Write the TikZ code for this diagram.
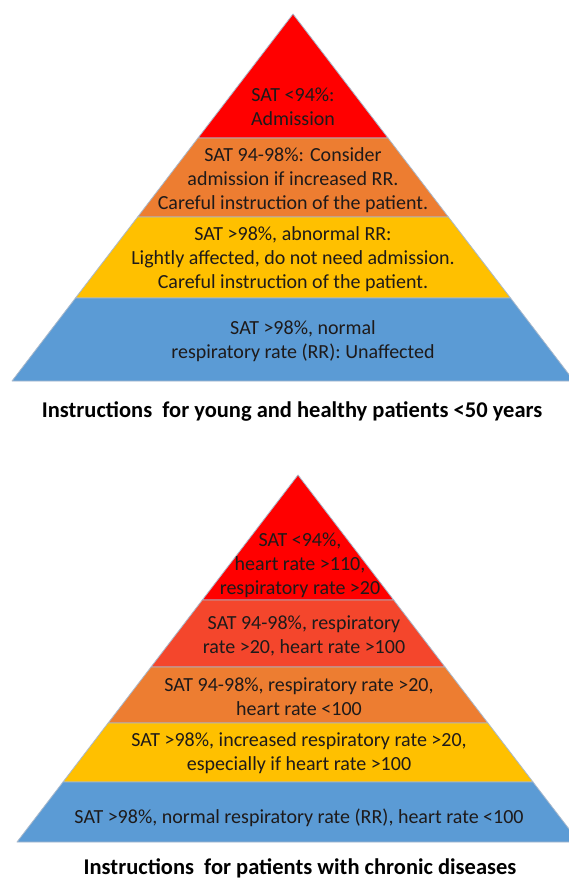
\documentclass[tikz,border=0pt]{standalone}
\usepackage{fontspec}
\setmainfont{Carlito}
\definecolor{cRed}{HTML}{FF0000}
\definecolor{cRedOr}{HTML}{F4462C}
\definecolor{cOrange}{HTML}{ED7D31}
\definecolor{cYellow}{HTML}{FFC000}
\definecolor{cBlue}{HTML}{5B9BD5}
\definecolor{cEdge}{HTML}{A9B9CC}
\definecolor{cTxt}{HTML}{1E1A1A}
\tikzset{
  band/.style={draw=cEdge, line width=0.8pt, line join=round},
  txt/.style={font=\fontsize{20}{24}\selectfont, text=cTxt, align=center, inner sep=0pt},
  ttl/.style={font=\fontsize{22.5}{26}\selectfont\bfseries, text=black, inner sep=0pt}
}
\begin{document}
\begin{tikzpicture}[x=1pt,y=-1pt]
\path[use as bounding box, clip] (0,0) rectangle (569,881);
\fill[white] (0,0) rectangle (569,881);
% ---- top pyramid: apex (293,14), slope 0.7657
\coordinate (A1) at (293,14);
\draw[band, fill=cRed]    (A1) -- (388,138) -- (198,138) -- cycle;
\draw[band, fill=cOrange] (198,138) -- (388,138) -- (448.4,217) -- (137.6,217) -- cycle;
\draw[band, fill=cYellow] (137.6,217) -- (448.4,217) -- (510.5,298) -- (75.5,298) -- cycle;
\draw[band, fill=cBlue]   (75.5,298) -- (510.5,298) -- (574,381) -- (12,381) -- cycle;
\node[txt] (t1) at (293,106.5) {SAT <94\%:\\Admission};
\node[txt] (t2) at (293,180.5) {SAT 94-98\%: Consider\\admission if increased RR.\\Careful instruction of the patient.};
\node[txt] (t3) at (293,259) {SAT >98\%, abnormal RR:\\Lightly affected, do not need admission.\\Careful instruction of the patient.};
\node[txt] (t4) at (303,341) {SAT >98\%, normal\\respiratory rate (RR): Unaffected};
\node[ttl] (T1) at (292,411) {Instructions\ \ for young and healthy patients <50 years};
% ---- bottom pyramid: apex (298,475)
\coordinate (A2) at (298,475);
\draw[band, fill=cRed]    (A2) -- (393.7,600) -- (202.3,600) -- cycle;
\draw[band, fill=cRedOr]  (202.3,600) -- (393.7,600) -- (445,667) -- (151,667) -- cycle;
\draw[band, fill=cOrange] (151,667) -- (445,667) -- (487.9,723) -- (108.1,723) -- cycle;
\draw[band, fill=cYellow] (108.1,723) -- (487.9,723) -- (533,782) -- (63,782) -- cycle;
\draw[band, fill=cBlue]   (63,782) -- (533,782) -- (579,842) -- (17,842) -- cycle;
\node[txt] (b1) at (300,565) {SAT <94\%,\\heart rate >110,\\respiratory rate >20};
\node[txt] (b2) at (304,636) {SAT 94-98\%, respiratory\\rate >20, heart rate >100};
\node[txt] (b3) at (299,697) {SAT 94-98\%, respiratory rate >20,\\heart rate <100};
\node[txt] (b4) at (299,753.5) {SAT >98\%, increased respiratory rate >20,\\especially if heart rate >100};
\node[txt] (b5) at (299,818) {SAT >98\%, normal respiratory rate (RR), heart rate <100};
\node[ttl] (T2) at (300,868.5) {Instructions\ \ for patients with chronic diseases};
\end{tikzpicture}
\end{document}
